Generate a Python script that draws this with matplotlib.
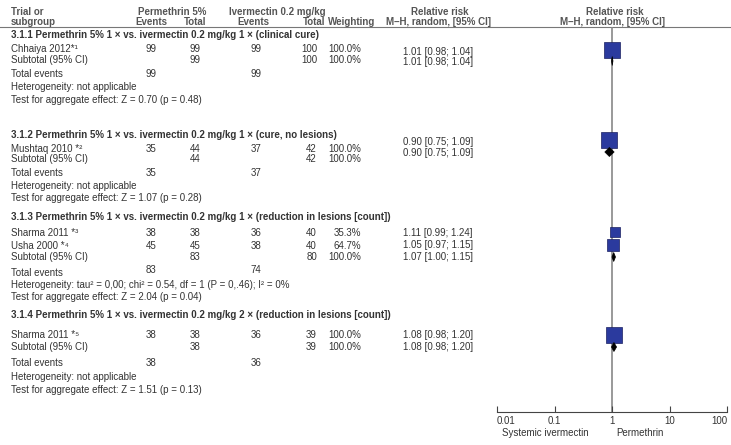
'''
Forest plot: permethrin 5% vs. systemic ivermectin 0.2 mg/kg
relative risk, M-H random effects, by subgroup
'''

import numpy as np
import matplotlib
matplotlib.use('Agg')
import matplotlib.pyplot as plt
from matplotlib.patches import Polygon


# ========================================================================
# data
# ========================================================================

# single studies
study_names = ['Chhaiya 2012', 'Mushtaq 2010', 'Sharma 2011', 'Usha 2000', 'Sharma 2011']
study_notes = ['*\u00b9', ' *\u00b2', ' *\u00b3', ' *\u2074', ' *\u2075']
study_group = [0, 1, 2, 2, 3]
perm_events = [99, 35, 38, 45, 38]
perm_total = [99, 44, 38, 45, 38]
iver_events = [99, 37, 36, 38, 36]
iver_total = [100, 42, 40, 40, 39]
weights = [100.0, 100.0, 35.3, 64.7, 100.0]
rr = [1.01, 0.90, 1.11, 1.05, 1.08]
rr_lo = [0.98, 0.75, 0.99, 0.97, 0.98]
rr_hi = [1.04, 1.09, 1.24, 1.15, 1.20]

# subgroups
group_titles = [
    '3.1.1 Permethrin 5% 1 \u00d7 vs. ivermectin 0.2 mg/kg 1 \u00d7 (clinical cure)',
    '3.1.2 Permethrin 5% 1 \u00d7 vs. ivermectin 0.2 mg/kg 1 \u00d7 (cure, no lesions)',
    '3.1.3 Permethrin 5% 1 \u00d7 vs. ivermectin 0.2 mg/kg 1 \u00d7 (reduction in lesions [count])',
    '3.1.4 Permethrin 5% 1 \u00d7 vs. ivermectin 0.2 mg/kg 2 \u00d7 (reduction in lesions [count])']
sub_perm_total = [99, 44, 83, 38]
sub_iver_total = [100, 42, 80, 39]
sub_rr = [1.01, 0.90, 1.07, 1.08]
sub_lo = [0.98, 0.75, 1.00, 0.98]
sub_hi = [1.04, 1.09, 1.15, 1.20]
tot_perm_events = [99, 35, 83, 38]
tot_iver_events = [99, 37, 74, 36]
heterogeneity = ['not applicable', 'not applicable',
                 'tau\u00b2 = 0,00; chi\u00b2 = 0.54, df = 1 (P = 0,.46); I\u00b2 = 0%',
                 'not applicable']
agg_tests = ['Z = 0.70 (p = 0.48)', 'Z = 1.07 (p = 0.28)',
             'Z = 2.04 (p = 0.04)', 'Z = 1.51 (p = 0.13)']

x_ticks = [0.01, 0.1, 1, 10, 100]
x_ticklabels = ['0.01', '0.1', '1', '10', '100']

# ========================================================================
# layout (pixel rows, y down)
# ========================================================================
W, H = 731, 445
y_title = [35, 135, 217, 315]
y_study = [49, 149, 233, 246, 335]
y_sub = [60, 159, 257, 347]
y_tot = [74, 173, 273, 363]
y_tot_num = [74, 173, 270, 363]
y_het = [87, 186, 284.5, 377]
y_test = [100, 198, 297, 390]
# effect column / graphics rows (slightly shifted in the original)
y_rr_study = [52, 142, 233, 245, 335]
y_rr_sub = [62, 153, 257, 347]
y_square = [49.5, 140, 231.5, 244.5, 335]
y_diamond = [61, 152, 257, 347]

x_label = 11
x_pe, x_pt, x_ie, x_it, x_w, x_rr = 151, 195, 256, 317, 361, 438

fam = ['Liberation Sans', 'DejaVu Sans']
fs = 7
txt_col = '#333333'
head_col = '#555555'
sq_col = '#2b3a9e'

# ========================================================================
# figure
# ========================================================================
fig = plt.figure(figsize=(W/100, H/100), dpi=100)

# text axes in pixel coordinates
ax = fig.add_axes([0, 0, 1, 1])
ax.set_xlim(0, W)
ax.set_ylim(H, 0)
ax.axis('off')


def put(x, y, s, ha='left', bold=False, color=txt_col):
    ax.text(x, y, s, ha=ha, va='center', fontsize=fs, family=fam,
            fontweight='bold' if bold else 'normal', color=color)


# header
put(x_label, 12, 'Trial or', bold=True, color=head_col)
put(x_label, 22, 'subgroup', bold=True, color=head_col)
put(172, 12, 'Permethrin 5%', ha='center', bold=True, color=head_col)
put(x_pe, 22, 'Events', ha='center', bold=True, color=head_col)
put(x_pt, 22, 'Total', ha='center', bold=True, color=head_col)
put(277, 12, 'Ivermectin 0.2 mg/kg', ha='center', bold=True, color=head_col)
put(253, 22, 'Events', ha='center', bold=True, color=head_col)
put(325, 22, 'Total', ha='right', bold=True, color=head_col)
put(328, 22, 'Weighting', bold=True, color=head_col)
put(440, 12, 'Relative risk', ha='center', bold=True, color=head_col)
put(438, 22, 'M\u2013H, random, [95% CI]', ha='center', bold=True, color=head_col)
put(615, 12, 'Relative risk', ha='center', bold=True, color=head_col)
put(612, 22, 'M\u2013H, random, [95% CI]', ha='center', bold=True, color=head_col)
ax.plot([0, W], [27, 27], color='#777777', linewidth=0.8)

# studies
for i in range(len(study_names)):
    y = y_study[i]
    put(x_label, y, study_names[i] + study_notes[i])
    put(x_pe, y, str(perm_events[i]), ha='center')
    put(x_pt, y, str(perm_total[i]), ha='center')
    put(x_ie, y, str(iver_events[i]), ha='center')
    put(x_it, y, str(iver_total[i]), ha='right')
    put(x_w, y, '%.1f%%' % weights[i], ha='right')
    put(x_rr, y_rr_study[i], '%.2f [%.2f; %.2f]' % (rr[i], rr_lo[i], rr_hi[i]), ha='center')

# subgroups
for g in range(len(group_titles)):
    put(x_label, y_title[g], group_titles[g], bold=True)
    put(x_label, y_sub[g], 'Subtotal (95% CI)')
    put(x_pt, y_sub[g], str(sub_perm_total[g]), ha='center')
    put(x_it, y_sub[g], str(sub_iver_total[g]), ha='right')
    put(x_w, y_sub[g], '100.0%', ha='right')
    put(x_rr, y_rr_sub[g], '%.2f [%.2f; %.2f]' % (sub_rr[g], sub_lo[g], sub_hi[g]), ha='center')
    put(x_label, y_tot[g], 'Total events')
    put(x_pe, y_tot_num[g], str(tot_perm_events[g]), ha='center')
    put(x_ie, y_tot_num[g], str(tot_iver_events[g]), ha='center')
    put(x_label, y_het[g], 'Heterogeneity: ' + heterogeneity[g])
    put(x_label, y_test[g], 'Test for aggregate effect: ' + agg_tests[g])

# ========================================================================
# forest axes (log x, pixel y)
# ========================================================================
x0, x1, y_top, y_axis = 497, 727, 27, 412
fax = fig.add_axes([x0/W, (H - y_axis)/H, (x1 - x0)/W, (y_axis - y_top)/H])
fax.set_xscale('log')
fax.set_xlim(0.01, 100)
fax.set_ylim(y_axis, y_top)
fax.patch.set_alpha(0)
for side in ['left', 'right', 'top']:
    fax.spines[side].set_visible(False)
fax.spines['bottom'].set_color('#444444')
fax.spines['bottom'].set_linewidth(0.8)
fax.set_yticks([])
fax.set_xticks(x_ticks)
fax.minorticks_off()
fax.set_xticklabels(x_ticklabels, fontsize=fs, family=fam, color=txt_col)
fax.tick_params(axis='x', direction='in', length=4, width=0.8, color='#444444', pad=3)
labs = fax.get_xticklabels()
labs[0].set_ha('left')
labs[-1].set_ha('right')

fax.axvline(1, color='#888888', linewidth=1.2, zorder=1)

# study squares (area ~ weight)
for i in range(len(rr)):
    fax.plot([rr_lo[i], rr_hi[i]], [y_square[i], y_square[i]], color='black',
             linewidth=0.6, zorder=2)
    side_px = 16 * np.sqrt(weights[i] / 100.0)
    fax.plot(rr[i], y_square[i], 's', markersize=side_px*0.72, color=sq_col,
             markeredgecolor='#1a2060', markeredgewidth=0.5, zorder=3)

# subgroup diamonds
for g in range(len(sub_rr)):
    yd = y_diamond[g]
    d = Polygon([[sub_lo[g], yd], [sub_rr[g], yd - 4.5], [sub_hi[g], yd], [sub_rr[g], yd + 4.5]],
                closed=True, facecolor='black', edgecolor='black', linewidth=0.5, zorder=4)
    fax.add_patch(d)

# direction labels
put(545, 433, 'Systemic ivermectin', ha='center')
put(640, 433, 'Permethrin', ha='center')

plt.savefig('out.png', dpi=100)
